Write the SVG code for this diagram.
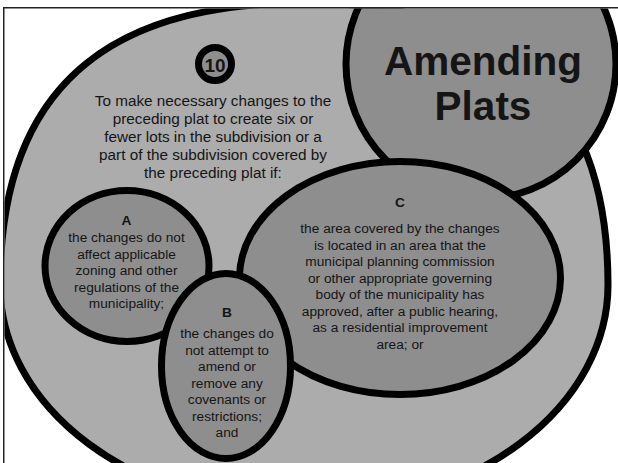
<svg xmlns="http://www.w3.org/2000/svg" width="618" height="463" viewBox="0 0 618 463">
<defs>
<style>
.sh{stroke:#000;stroke-width:7}
.lt{fill:#acacac}
.md{fill:#8e8e8e}
.t{font-family:"Liberation Sans",Arial,sans-serif;fill:#151515;text-anchor:middle}
.b{font-weight:bold}
.s{font-size:13.7px}
</style>
<clipPath id="frame"><rect x="4.5" y="8.5" width="620" height="460"/></clipPath>
</defs>
<rect width="618" height="463" fill="#fff"/>
<g clip-path="url(#frame)">
<g id="outer">
<path class="sh lt" d="M608 285 A304 225 0 0 1 0 285 C0 70 129 3 304 3 C479 3 608 70 608 285 Z"/>
<g id="badge">
<circle class="sh md" cx="215" cy="64" r="16.5"/>
<text class="t b" x="215" y="71.5" font-size="19">10</text>
</g>
<text class="t" font-size="15.3"><tspan x="213" y="106">To make necessary changes to the</tspan><tspan x="213" y="124">preceding plat to create six or</tspan><tspan x="213" y="142">fewer lots in the subdivision or a</tspan><tspan x="213" y="160">part of the subdivision covered by</tspan><tspan x="213" y="178">the preceding plat if:</tspan></text>
</g>
<g id="title">
<circle class="sh md" cx="481" cy="64" r="135"/>
<text class="t b" font-size="40.5"><tspan x="483" y="75">Amending</tspan><tspan x="483" y="120">Plats</tspan></text>
</g>
<g id="nodeC">
<ellipse class="sh md" cx="400" cy="278" rx="160.5" ry="116.5"/>
<text class="t b s" x="400" y="207">C</text>
<text class="t s"><tspan x="400" y="233">the area covered by the changes</tspan><tspan x="400" y="249.5">is located in an area that the</tspan><tspan x="400" y="266">municipal planning commission</tspan><tspan x="400" y="282.5">or other appropriate governing</tspan><tspan x="400" y="299">body of the municipality has</tspan><tspan x="400" y="315.5">approved, after a public hearing,</tspan><tspan x="400" y="332">as a residential improvement</tspan><tspan x="400" y="348.5">area; or</tspan></text>
</g>
<g id="nodeA">
<ellipse class="sh md" cx="127" cy="266" rx="82" ry="75.5"/>
<text class="t b s" x="126.5" y="225">A</text>
<text class="t s"><tspan x="126.5" y="242">the changes do not</tspan><tspan x="126.5" y="258.5">affect applicable</tspan><tspan x="126.5" y="275">zoning and other</tspan><tspan x="126.5" y="291.5">regulations of the</tspan><tspan x="126.5" y="308">municipality;</tspan></text>
</g>
<g id="nodeB">
<ellipse class="sh md" cx="226" cy="366" rx="64.5" ry="92.5"/>
<text class="t b s" x="227" y="317">B</text>
<text class="t s"><tspan x="227" y="338">the changes do</tspan><tspan x="227" y="354.5">not attempt to</tspan><tspan x="227" y="371">amend or</tspan><tspan x="227" y="387.5">remove any</tspan><tspan x="227" y="404">covenants or</tspan><tspan x="227" y="420.5">restrictions;</tspan><tspan x="227" y="437">and</tspan></text>
</g>
</g>
<g id="connectors"/>
<rect x="3.75" y="7.75" width="640" height="480" fill="none" stroke="#222" stroke-width="1.5"/>
</svg>
